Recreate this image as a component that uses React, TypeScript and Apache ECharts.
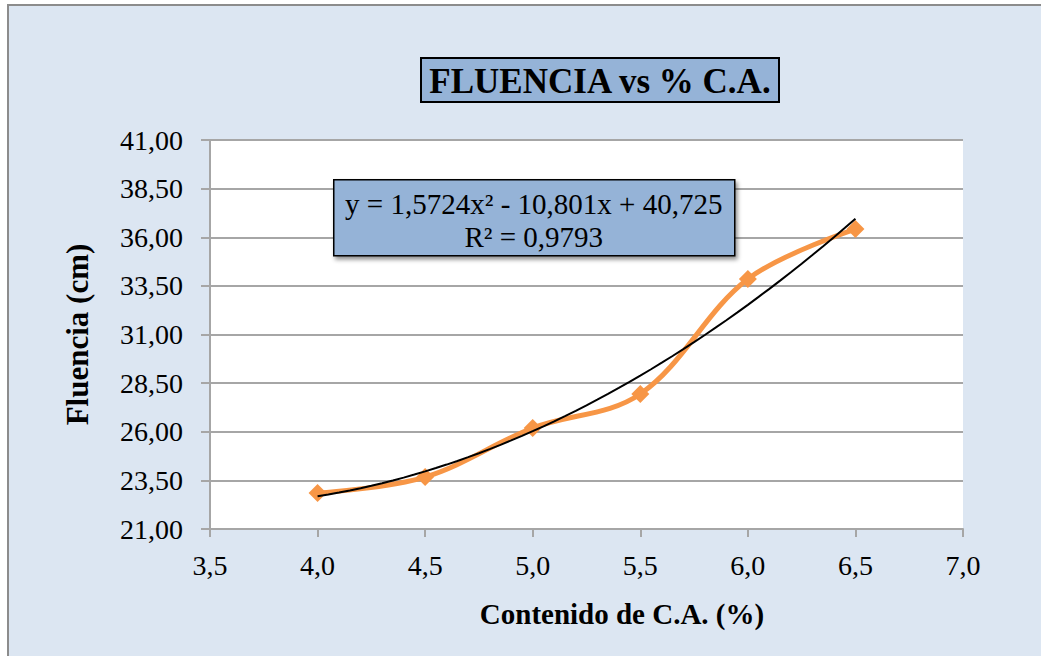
import React, { useEffect, useRef } from "react";
import * as echarts from "echarts";

const xValues = [4.0, 4.5, 5.0, 5.5, 6.0, 6.5];
const fluencia = [22.85, 23.67, 26.19, 27.94, 33.85, 36.42];
const trendCoefs = [1.5724, -10.801, 40.725]; // a, b, c from the displayed equation
const trendLabel1 = "y = 1,5724x² - 10,801x + 40,725";
const trendLabel2 = "R² = 0,9793";
const titleText = "FLUENCIA vs % C.A.";
const xAxisTitle = "Contenido de C.A. (%)";
const yAxisTitle = "Fluencia (cm)";

const SERIF = '"Liberation Serif", "Times New Roman", serif';

export default function App() {
  const ref = useRef<HTMLDivElement>(null);

  useEffect(() => {
    document.body.style.margin = "0";
    if (!ref.current) return;
    const chart = echarts.init(ref.current, null, { renderer: "svg" });

    const xMin = xValues[0];
    const xMax = xValues[xValues.length - 1];
    const trend: number[][] = [];
    const steps = 50;
    for (let i = 0; i <= steps; i++) {
      const x = xMin + ((xMax - xMin) * i) / steps;
      trend.push([x, trendCoefs[0] * x * x + trendCoefs[1] * x + trendCoefs[2]]);
    }

    const fmt = (d: number) => (v: number) => v.toFixed(d).replace(".", ",");

    chart.setOption({
      animation: false,
      backgroundColor: "transparent",
      grid: {
        left: 210,
        top: 140,
        right: 78,
        bottom: 127,
        show: true,
        backgroundColor: "#ffffff",
        borderWidth: 0,
      },
      xAxis: {
        type: "value",
        min: 3.5,
        max: 7.0,
        interval: 0.5,
        axisLine: { show: true, lineStyle: { color: "#a6a6a6", width: 2 } },
        axisTick: { show: true, length: 8, lineStyle: { color: "#a6a6a6", width: 2 } },
        splitLine: { show: false },
        axisLabel: {
          formatter: fmt(1),
          color: "#000",
          fontFamily: SERIF,
          fontSize: 28,
          margin: 22,
        },
      },
      yAxis: {
        type: "value",
        min: 21,
        max: 41,
        interval: 2.5,
        axisLine: { show: true, lineStyle: { color: "#a6a6a6", width: 2 } },
        axisTick: { show: true, length: 9, lineStyle: { color: "#a6a6a6", width: 2 } },
        splitLine: { show: true, lineStyle: { color: "#a6a6a6", width: 2 } },
        axisLabel: {
          formatter: fmt(2),
          color: "#000",
          fontFamily: SERIF,
          fontSize: 28,
          margin: 27,
        },
        name: yAxisTitle,
        nameLocation: "middle",
        nameGap: 117,
        nameTextStyle: {
          color: "#000",
          fontFamily: SERIF,
          fontSize: 31,
          fontWeight: "bold",
        },
      },
      series: [
        {
          type: "line",
          data: xValues.map((x, i) => [x, fluencia[i]]),
          smooth: 0.35,
          symbol: "diamond",
          symbolSize: 18,
          showSymbol: true,
          lineStyle: { color: "#f79646", width: 5 },
          itemStyle: { color: "#f79646" },
          z: 2,
        },
        {
          type: "line",
          data: trend,
          showSymbol: false,
          symbol: "none",
          lineStyle: { color: "#000000", width: 2 },
          z: 3,
        },
      ],
      graphic: [
        {
          type: "group",
          left: 420,
          top: 57,
          children: [
            {
              type: "rect",
              z: 100,
              shape: { x: 0, y: 0, width: 358, height: 44 },
              style: { fill: "#95b3d7", stroke: "#000", lineWidth: 2 },
            },
            {
              type: "text",
              z: 101,
              x: 179,
              y: 23,
              style: {
                text: titleText,
                fill: "#000",
                font: `bold 35px ${SERIF}`,
                align: "center",
                verticalAlign: "middle",
              },
            },
          ],
        },
        {
          type: "group",
          left: 333,
          top: 179,
          children: [
            {
              type: "rect",
              z: 100,
              shape: { x: 0, y: 0, width: 401, height: 76 },
              style: {
                fill: "#95b3d7",
                stroke: "#000",
                lineWidth: 1.5,
                shadowBlur: 4,
                shadowOffsetX: 2,
                shadowOffsetY: 3,
                shadowColor: "rgba(0,0,0,0.45)",
              },
            },
            {
              type: "text",
              z: 101,
              x: 200,
              y: 24,
              style: {
                text: trendLabel1,
                fill: "#000",
                font: `29px ${SERIF}`,
                align: "center",
                verticalAlign: "middle",
              },
            },
            {
              type: "text",
              z: 101,
              x: 200,
              y: 57,
              style: {
                text: trendLabel2,
                fill: "#000",
                font: `29px ${SERIF}`,
                align: "center",
                verticalAlign: "middle",
              },
            },
          ],
        },
        {
          type: "text",
          x: 622,
          y: 614,
          style: {
            text: xAxisTitle,
            fill: "#000",
            font: `bold 29px ${SERIF}`,
            align: "center",
            verticalAlign: "middle",
          },
        },
      ],
    });

    return () => chart.dispose();
  }, []);

  return (
    <div
      style={{
        position: "relative",
        width: 1041,
        height: 656,
        overflow: "hidden",
        background: "#ffffff",
      }}
    >
      <div
        style={{
          position: "absolute",
          left: 7,
          top: 4,
          width: 1100,
          height: 700,
          background: "#dce6f2",
          borderLeft: "2px solid #8c8c8c",
          borderTop: "2px solid #8c8c8c",
        }}
      />
      <div
        ref={ref}
        style={{ position: "absolute", left: 0, top: 0, width: 1041, height: 656 }}
      />
    </div>
  );
}
